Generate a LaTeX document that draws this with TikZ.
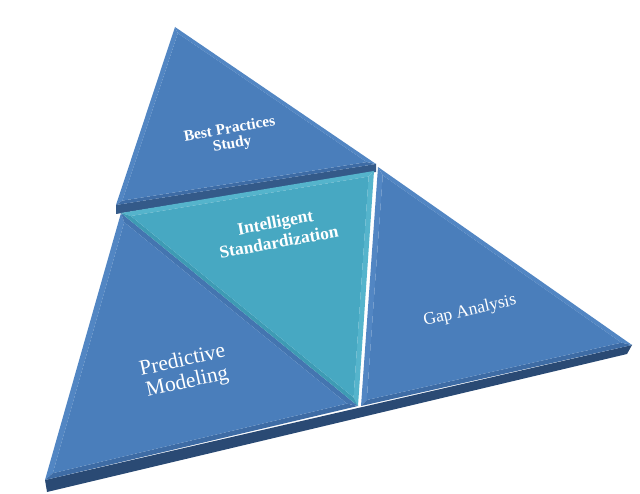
\documentclass[tikz,border=0pt]{standalone}
\usepackage{fontspec}
\setmainfont{Liberation Serif}
\usetikzlibrary{calc}
\definecolor{PyrBlue}{HTML}{4A7EBB}
\definecolor{PyrTeal}{HTML}{47A8C2}
\definecolor{PyrSide}{HTML}{2A4A74}
\definecolor{PyrDark}{HTML}{3E6CA5}
\definecolor{PyrLight}{HTML}{5286C3}
\definecolor{TealDark}{HTML}{3E9BB4}
\definecolor{TealLight}{HTML}{55B4CC}
\tikzset{
  lbl/.style={text=white,align=center,inner sep=0pt},
  slab/.style={fill=PyrSide},
}
% bevelled triangle: corners, face colour, bevel colours of edges 12, 23, 31
\newcommand{\facet}[7]{%
  \coordinate (c) at (barycentric cs:#1=1,#2=1,#3=1);
  \coordinate (i1) at ($(#1)!0.06!(c)$);
  \coordinate (i2) at ($(#2)!0.06!(c)$);
  \coordinate (i3) at ($(#3)!0.06!(c)$);
  \fill[#5] (#1) -- (#2) -- (i2) -- (i1) -- cycle;
  \fill[#6] (#2) -- (#3) -- (i3) -- (i2) -- cycle;
  \fill[#7] (#3) -- (#1) -- (i1) -- (i3) -- cycle;
  \fill[#4] (i1) -- (i2) -- (i3) -- cycle;
}

\begin{document}
\begin{tikzpicture}[x=1pt,y=-1pt]
  \useasboundingbox (0,0) rectangle (640,494);
  % corners
  \coordinate (apex) at (175,27);
  \coordinate (topL) at (116,205);
  \coordinate (topR) at (376,164);
  \coordinate (midL) at (121,213);
  \coordinate (midR) at (374,171);
  \coordinate (midB) at (358,406);
  \coordinate (botL) at (45,480);
  \coordinate (botR) at (632,345);
  \coordinate (gapT) at (378,167);
  \coordinate (gapB) at (361,406);

  % thickness of the slab
  \fill[slab] (botL) -- (botR) -- ++(-5,9) -- ($(botL)+(2,12)$) -- cycle;
  \fill[slab, fill=PyrSide!70!PyrBlue] (topL) -- (topR) -- ++(0,8) -- ($(topL)+(0,9)$) -- cycle;

  \facet{midL}{botL}{midB}{PyrBlue}{PyrLight}{PyrDark}{PyrDark!50!PyrBlue}
  \facet{gapT}{gapB}{botR}{PyrBlue}{PyrLight}{PyrDark}{PyrLight}
  \facet{midL}{midR}{midB}{PyrTeal}{TealLight}{TealLight}{TealDark}
  \facet{apex}{topL}{topR}{PyrBlue}{PyrLight}{PyrDark}{PyrLight}

  \node[lbl, font=\bfseries\fontsize{15.5}{15}\selectfont, rotate=10] (best) at (231,137) {Best Practices\\Study};
  \node[lbl, font=\bfseries\fontsize{17.5}{20}\selectfont, rotate=10.5] (intel) at (277,232) {Intelligent\\Standardization};
  \node[lbl, font=\fontsize{17.5}{17}\selectfont, rotate=13] (gap) at (470,311) {Gap Analysis};
  \node[lbl, font=\fontsize{21.5}{22}\selectfont, rotate=12.5] (pred) at (185,372) {Predictive\\Modeling};
\end{tikzpicture}
\end{document}
